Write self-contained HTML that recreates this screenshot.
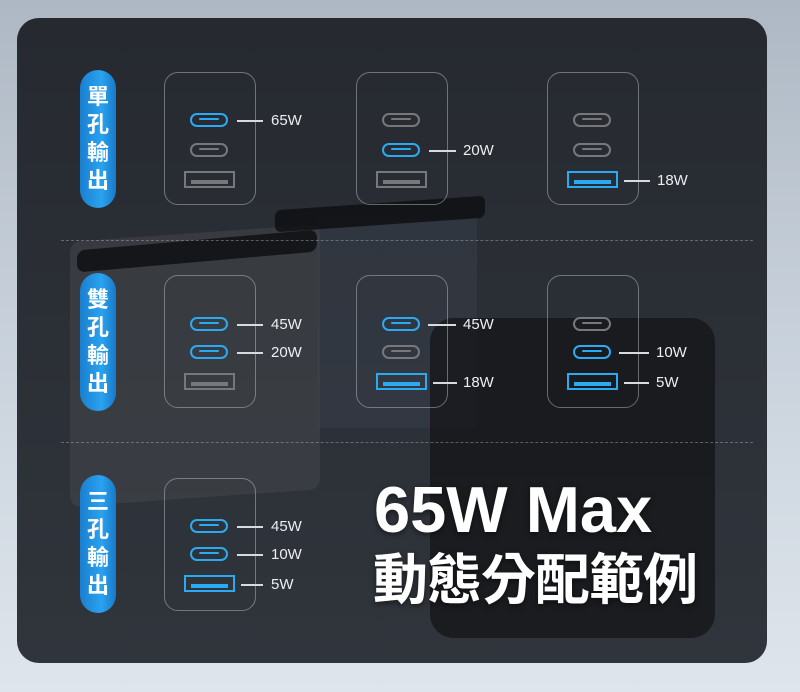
<!DOCTYPE html>
<html><head><meta charset="utf-8"><style>
*{margin:0;padding:0;box-sizing:border-box}
body{width:800px;height:692px;overflow:hidden;position:relative;background:linear-gradient(180deg,#aeb8c4 0%,#c9d2dc 50%,#dfe5ec 100%);font-family:"Liberation Sans","Noto Sans CJK TC",sans-serif}
.panel{position:absolute;left:17px;top:18px;width:750px;height:645px;border-radius:22px;background:linear-gradient(180deg,#262a30 0%,#2c3037 60%,#30353c 100%);overflow:hidden}
.a{position:absolute}
.pill{position:absolute;left:80px;width:36px;height:138px;border-radius:18px;background:linear-gradient(90deg,#1a7fd0,#2aa3ef 60%,#1878c8);color:#fff;font-size:22px;font-weight:bold;text-align:center;line-height:28px;padding-top:13px}
.box{position:absolute;width:92px;height:133px;border:1.5px solid rgba(200,205,212,.45);border-radius:14px}
.c{position:absolute;width:38px;height:14px;border-radius:7px;border:2.5px solid #77787b}
.c::after{content:"";position:absolute;left:7px;right:7px;top:3px;height:2px;background:#77787b;border-radius:2px}
.usb{position:absolute;width:51px;height:17px;border:2.5px solid #77787b}
.usb::after{content:"";position:absolute;left:5px;right:5px;bottom:2px;height:4px;background:#77787b}
.b{border-color:#2aaaf2}.b::after{background:#2aaaf2}
.ln{position:absolute;height:2px;background:#d8dadd}
.lb{position:absolute;color:#eceef0;font-size:15px;line-height:16px}
.dv{position:absolute;left:44px;width:692px;border-top:1.5px dashed rgba(170,178,190,.45)}
</style></head><body>
<div class="panel">
<div class="a" style="left:53px;top:215px;width:250px;height:265px;background:#46484b;border-radius:10px;transform:skewY(-4deg);opacity:.5"></div>
<div class="a" style="left:60px;top:222px;width:240px;height:22px;background:#0d0e10;border-radius:8px;transform:skewY(-5deg);opacity:.8"></div>
<div class="a" style="left:300px;top:200px;width:160px;height:210px;background:#3b4350;opacity:.4"></div>
<div class="a" style="left:258px;top:185px;width:210px;height:22px;background:#0d0e10;transform:skewY(-4deg);border-radius:6px;opacity:.8"></div>
<div class="a" style="left:413px;top:300px;width:285px;height:320px;background:#121315;border-radius:24px;opacity:.7"></div>
</div>
<div class="dv" style="top:240px;left:61px"></div>
<div class="dv" style="top:442px;left:61px"></div>
<div class="pill" style="top:70px">單<br>孔<br>輸<br>出</div>
<div class="pill" style="top:273px">雙<br>孔<br>輸<br>出</div>
<div class="pill" style="top:475px">三<br>孔<br>輸<br>出</div>

<div class="box" style="left:164px;top:72px"></div>
<div class="c b" style="left:190px;top:113px"></div><div class="ln" style="left:237px;top:120px;width:26px"></div><div class="lb" style="left:271px;top:113px">65W</div>
<div class="c" style="left:190px;top:143px"></div>
<div class="usb" style="left:184px;top:171px"></div>

<div class="box" style="left:356px;top:72px"></div>
<div class="c" style="left:382px;top:113px"></div>
<div class="c b" style="left:382px;top:143px"></div><div class="ln" style="left:429px;top:150px;width:27px"></div><div class="lb" style="left:463px;top:143px">20W</div>
<div class="usb" style="left:376px;top:171px"></div>

<div class="box" style="left:547px;top:72px"></div>
<div class="c" style="left:573px;top:113px"></div>
<div class="c" style="left:573px;top:143px"></div>
<div class="usb b" style="left:567px;top:171px"></div><div class="ln" style="left:624px;top:180px;width:26px"></div><div class="lb" style="left:657px;top:173px">18W</div>

<div class="box" style="left:164px;top:275px"></div>
<div class="c b" style="left:190px;top:317px"></div><div class="ln" style="left:237px;top:324px;width:26px"></div><div class="lb" style="left:271px;top:317px">45W</div>
<div class="c b" style="left:190px;top:345px"></div><div class="ln" style="left:237px;top:352px;width:26px"></div><div class="lb" style="left:271px;top:345px">20W</div>
<div class="usb" style="left:184px;top:373px"></div>

<div class="box" style="left:356px;top:275px"></div>
<div class="c b" style="left:382px;top:317px"></div><div class="ln" style="left:428px;top:324px;width:28px"></div><div class="lb" style="left:463px;top:317px">45W</div>
<div class="c" style="left:382px;top:345px"></div>
<div class="usb b" style="left:376px;top:373px"></div><div class="ln" style="left:433px;top:382px;width:24px"></div><div class="lb" style="left:463px;top:375px">18W</div>

<div class="box" style="left:547px;top:275px"></div>
<div class="c" style="left:573px;top:317px"></div>
<div class="c b" style="left:573px;top:345px"></div><div class="ln" style="left:619px;top:352px;width:30px"></div><div class="lb" style="left:656px;top:345px">10W</div>
<div class="usb b" style="left:567px;top:373px"></div><div class="ln" style="left:624px;top:382px;width:25px"></div><div class="lb" style="left:656px;top:375px">5W</div>

<div class="box" style="left:164px;top:478px"></div>
<div class="c b" style="left:190px;top:519px"></div><div class="ln" style="left:237px;top:526px;width:26px"></div><div class="lb" style="left:271px;top:519px">45W</div>
<div class="c b" style="left:190px;top:547px"></div><div class="ln" style="left:237px;top:554px;width:26px"></div><div class="lb" style="left:271px;top:547px">10W</div>
<div class="usb b" style="left:184px;top:575px"></div><div class="ln" style="left:241px;top:584px;width:22px"></div><div class="lb" style="left:271px;top:577px">5W</div>

<div class="a" style="left:374px;top:476px;color:#fff;font-size:65px;font-weight:bold;line-height:68px;white-space:nowrap;text-shadow:0 2px 6px rgba(0,0,0,.5)">65W Max</div>
<div class="a" style="left:373px;top:550px;color:#fff;font-size:55px;font-weight:bold;line-height:60px;white-space:nowrap;letter-spacing:-1px;text-shadow:0 2px 6px rgba(0,0,0,.5)">動態分配範例</div>
</body></html>
